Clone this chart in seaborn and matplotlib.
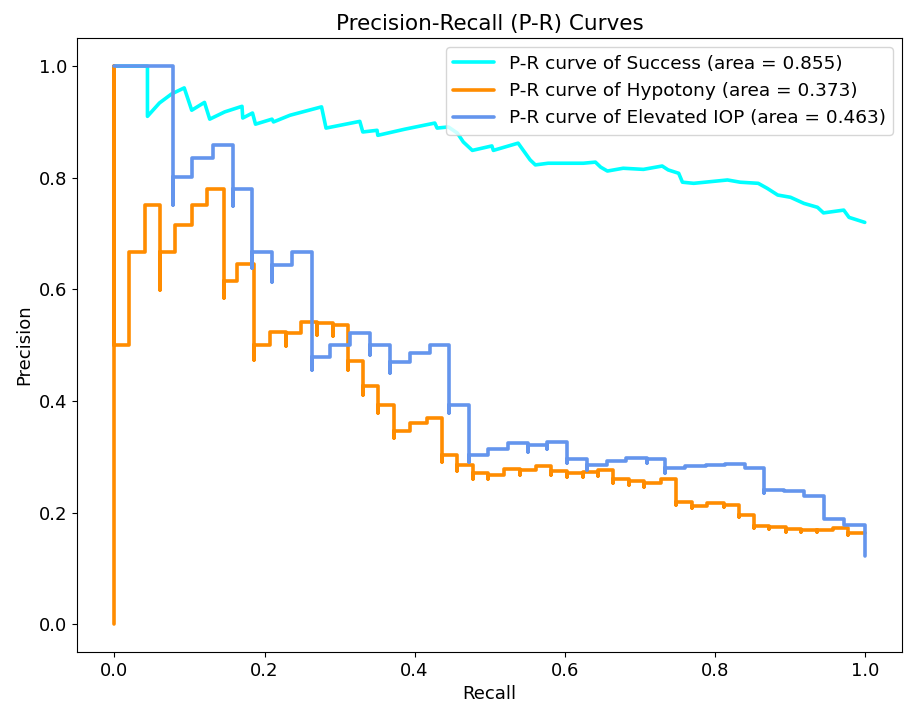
import matplotlib
matplotlib.use("Agg")
import matplotlib.pyplot as plt
import seaborn as sns
import pandas as pd

# Success curve (recall, precision) vertices
success_recall = [0.0, 0.044, 0.044, 0.060, 0.076, 0.093, 0.103, 0.120, 0.127, 0.147,
                  0.170, 0.171, 0.184, 0.188, 0.210, 0.212, 0.234, 0.276, 0.282, 0.327,
                  0.331, 0.350, 0.351, 0.387, 0.427, 0.430, 0.445, 0.457, 0.465, 0.477,
                  0.503, 0.505, 0.538, 0.554, 0.561, 0.578, 0.603, 0.625, 0.641, 0.648,
                  0.657, 0.678, 0.705, 0.730, 0.738, 0.752, 0.757, 0.772, 0.817, 0.834,
                  0.858, 0.870, 0.884, 0.901, 0.919, 0.937, 0.945, 0.972, 0.979, 1.0]
success_precision = [1.0, 1.0, 0.910, 0.934, 0.950, 0.961, 0.921, 0.935, 0.905, 0.918,
                     0.928, 0.907, 0.916, 0.896, 0.905, 0.900, 0.912, 0.927, 0.889, 0.901,
                     0.882, 0.885, 0.876, 0.887, 0.898, 0.889, 0.891, 0.880, 0.864, 0.849,
                     0.857, 0.849, 0.862, 0.832, 0.823, 0.826, 0.826, 0.826, 0.828, 0.819,
                     0.812, 0.817, 0.815, 0.821, 0.814, 0.808, 0.792, 0.790, 0.796, 0.792,
                     0.790, 0.781, 0.769, 0.765, 0.754, 0.747, 0.737, 0.742, 0.729, 0.720]

# Hypotony curve
hypotony_recall = [0.0, 0.0, 0.0, 0.020, 0.020, 0.041, 0.041, 0.061, 0.061, 0.061,
                   0.081, 0.081, 0.104, 0.104, 0.124, 0.124, 0.146, 0.146, 0.146, 0.164,
                   0.164, 0.186, 0.186, 0.186, 0.207, 0.207, 0.228, 0.228, 0.228, 0.248,
                   0.248, 0.270, 0.270, 0.270, 0.291, 0.291, 0.291, 0.311, 0.311, 0.311,
                   0.331, 0.331, 0.331, 0.351, 0.351, 0.351, 0.372, 0.372, 0.372, 0.394,
                   0.394, 0.417, 0.417, 0.437, 0.437, 0.437, 0.457, 0.457, 0.457, 0.478,
                   0.478, 0.478, 0.498, 0.498, 0.498, 0.519, 0.519, 0.541, 0.541, 0.541,
                   0.562, 0.562, 0.582, 0.582, 0.582, 0.603, 0.603, 0.603, 0.624, 0.624,
                   0.624, 0.645, 0.645, 0.645, 0.665, 0.665, 0.665, 0.686, 0.686, 0.686,
                   0.706, 0.706, 0.706, 0.728, 0.728, 0.749, 0.749, 0.749, 0.770, 0.770,
                   0.770, 0.790, 0.790, 0.812, 0.812, 0.812, 0.832, 0.832, 0.832, 0.852,
                   0.852, 0.852, 0.872, 0.872, 0.872, 0.895, 0.895, 0.895, 0.915, 0.915,
                   0.915, 0.936, 0.936, 0.936, 0.957, 0.957, 0.977, 0.977, 0.977, 1.0]
hypotony_precision = [0.0, 1.0, 0.500, 0.500, 0.667, 0.667, 0.751, 0.751, 0.599, 0.667,
                      0.667, 0.715, 0.715, 0.751, 0.751, 0.780, 0.780, 0.584, 0.615, 0.615,
                      0.645, 0.645, 0.473, 0.500, 0.500, 0.523, 0.523, 0.498, 0.522, 0.522,
                      0.541, 0.541, 0.518, 0.539, 0.539, 0.516, 0.536, 0.536, 0.455, 0.471,
                      0.471, 0.410, 0.427, 0.427, 0.378, 0.392, 0.392, 0.333, 0.346, 0.346,
                      0.360, 0.360, 0.369, 0.369, 0.290, 0.303, 0.303, 0.274, 0.285, 0.285,
                      0.260, 0.271, 0.271, 0.260, 0.267, 0.267, 0.278, 0.278, 0.267, 0.276,
                      0.276, 0.283, 0.283, 0.267, 0.274, 0.274, 0.263, 0.271, 0.271, 0.263,
                      0.272, 0.272, 0.265, 0.276, 0.276, 0.253, 0.260, 0.260, 0.249, 0.256,
                      0.256, 0.246, 0.253, 0.253, 0.260, 0.260, 0.213, 0.219, 0.219, 0.208,
                      0.211, 0.211, 0.217, 0.217, 0.210, 0.213, 0.213, 0.192, 0.195, 0.195,
                      0.172, 0.176, 0.176, 0.170, 0.174, 0.174, 0.165, 0.170, 0.170, 0.165,
                      0.168, 0.168, 0.165, 0.168, 0.168, 0.172, 0.172, 0.159, 0.163, 0.163]

# Elevated IOP curve
iop_recall = [0.0, 0.078, 0.078, 0.078, 0.104, 0.104, 0.131, 0.131, 0.158, 0.158,
              0.158, 0.183, 0.183, 0.183, 0.210, 0.210, 0.210, 0.236, 0.236, 0.263,
              0.263, 0.263, 0.287, 0.287, 0.314, 0.314, 0.340, 0.340, 0.340, 0.367,
              0.367, 0.367, 0.394, 0.394, 0.421, 0.421, 0.446, 0.446, 0.446, 0.473,
              0.473, 0.473, 0.498, 0.498, 0.525, 0.525, 0.551, 0.551, 0.551, 0.577,
              0.577, 0.577, 0.603, 0.603, 0.603, 0.630, 0.630, 0.630, 0.656, 0.656,
              0.682, 0.682, 0.710, 0.710, 0.710, 0.734, 0.734, 0.734, 0.761, 0.761,
              0.788, 0.788, 0.814, 0.814, 0.841, 0.841, 0.866, 0.866, 0.866, 0.892,
              0.892, 0.919, 0.919, 0.945, 0.945, 0.972, 0.972, 1.0, 1.0]
iop_precision = [1.0, 1.0, 0.751, 0.801, 0.801, 0.835, 0.835, 0.858, 0.858, 0.749,
                 0.780, 0.780, 0.638, 0.667, 0.667, 0.613, 0.643, 0.643, 0.667, 0.667,
                 0.455, 0.478, 0.478, 0.500, 0.500, 0.522, 0.522, 0.482, 0.500, 0.500,
                 0.450, 0.470, 0.470, 0.486, 0.486, 0.500, 0.500, 0.378, 0.392, 0.392,
                 0.290, 0.303, 0.303, 0.314, 0.314, 0.324, 0.324, 0.308, 0.321, 0.321,
                 0.314, 0.326, 0.326, 0.289, 0.296, 0.296, 0.276, 0.285, 0.285, 0.292,
                 0.292, 0.297, 0.297, 0.289, 0.296, 0.296, 0.271, 0.280, 0.280, 0.283,
                 0.283, 0.285, 0.285, 0.287, 0.287, 0.280, 0.280, 0.235, 0.240, 0.240,
                 0.238, 0.238, 0.229, 0.229, 0.188, 0.188, 0.177, 0.177, 0.122]

curves = [
    ("Success", 0.855, success_recall, success_precision, "aqua"),
    ("Hypotony", 0.373, hypotony_recall, hypotony_precision, "darkorange"),
    ("Elevated IOP", 0.463, iop_recall, iop_precision, "cornflowerblue"),
]

sns.set_style("ticks", rc={"text.color": "black", "axes.labelcolor": "black",
                           "xtick.color": "black", "ytick.color": "black",
                           "axes.edgecolor": "black"})
plt.rcParams["font.family"] = ["DejaVu Sans"]

fig, ax = plt.subplots(figsize=(9.05, 7.08), dpi=100)
fig.subplots_adjust(left=0.085, right=0.997, top=0.946, bottom=0.079)

for name, area, rec, prec, color in curves:
    df = pd.DataFrame({"Recall": rec, "Precision": prec})
    sns.lineplot(data=df, x="Recall", y="Precision", sort=False, estimator=None,
                 color=color, lw=2.6, ax=ax,
                 label=f"P-R curve of {name} (area = {area:.3f})")

ax.set_title("Precision-Recall (P-R) Curves", fontsize=15.5)
ax.set_xlabel("Recall", fontsize=13)
ax.set_ylabel("Precision", fontsize=13)
ax.tick_params(labelsize=13)
ax.legend(loc="upper right", fontsize=13.3, handlelength=2.2)

plt.savefig("out.png", dpi=100)
